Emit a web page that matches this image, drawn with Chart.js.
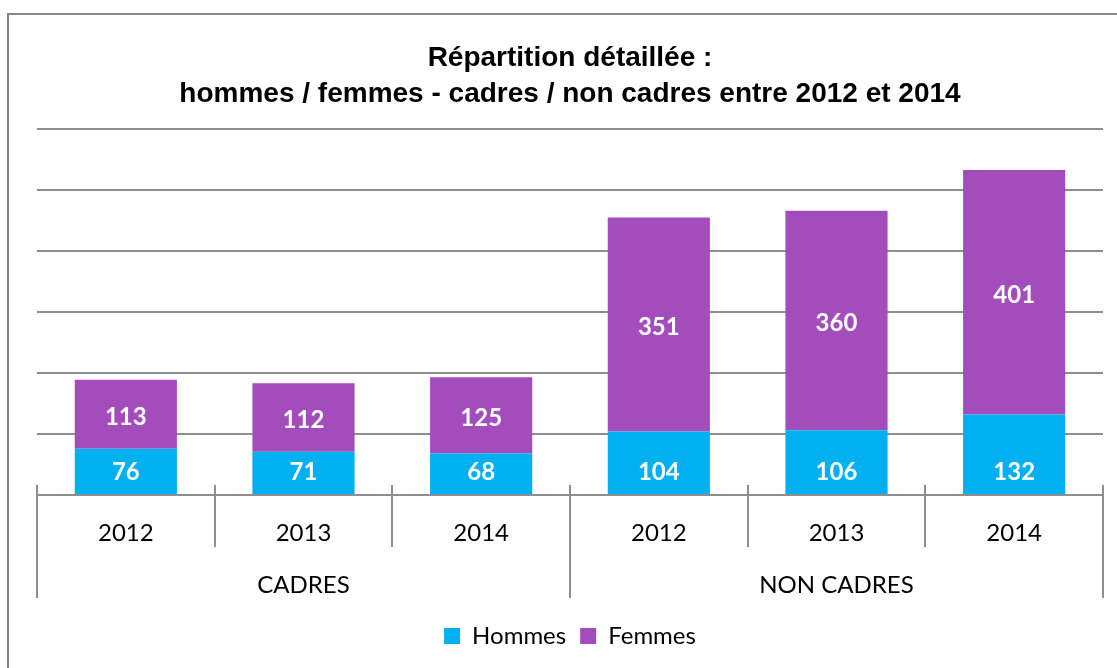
<!DOCTYPE html>
<html>
<head>
<meta charset="utf-8">
<script src="https://cdn.jsdelivr.net/npm/chart.js@4"></script>
<style>
  body { margin: 0; background: #fff; overflow: hidden; }
  #frame { position: absolute; left: 7px; top: 13px; width: 1200px; height: 700px;
           border-left: 2px solid #868686; border-top: 2px solid #868686; }
  #chart { position: absolute; left: 0; top: 0; }
</style>
</head>
<body>
<div id="frame"></div>
<canvas id="chart" width="1117" height="668"></canvas>
<script>
// Data
const years = ['2012', '2013', '2014', '2012', '2013', '2014'];
const groups = ['CADRES', 'NON CADRES'];
const hommes = [76, 71, 68, 104, 106, 132];
const femmes = [113, 112, 125, 351, 360, 401];

const labelFont = 'Lato, "Open Sans", sans-serif';

// Separators under the axis + group labels
const groupPlugin = {
    id: 'groupAxis',
    afterDraw(chart) {
        const x = chart.scales.x;
        const ctx = chart.ctx;
        const step = x.width / years.length;
        const per = years.length / groups.length;
        ctx.save();
        ctx.strokeStyle = '#8e8e8e';
        ctx.lineWidth = 2;
        for (let i = 0; i <= years.length; i++) {
            const px = Math.round(x.left + i * step);
            const edge = i % per === 0;
            ctx.beginPath();
            ctx.moveTo(px, x.top - 10);
            ctx.lineTo(px, x.top + (edge ? 103 : 52));
            ctx.stroke();
        }
        ctx.fillStyle = '#000';
        ctx.font = '24px ' + labelFont;
        ctx.textAlign = 'center';
        ctx.textBaseline = 'middle';
        groups.forEach((g, k) => {
            const cx = (x.getPixelForValue(k * per) + x.getPixelForValue(k * per + per - 1)) / 2;
            ctx.fillText(g, cx, x.top + 90);
        });
        ctx.restore();
    }
};

// Value labels inside the bars
const valuePlugin = {
    id: 'values',
    afterDatasetsDraw(chart) {
        const ctx = chart.ctx;
        ctx.save();
        ctx.fillStyle = '#fff';
        ctx.font = 'bold 24px ' + labelFont;
        ctx.textAlign = 'center';
        ctx.textBaseline = 'middle';
        chart.data.datasets.forEach((ds, di) => {
            chart.getDatasetMeta(di).data.forEach((bar, i) => {
                const p = bar.getProps(['x', 'y', 'base'], true);
                const y = di === 0 ? p.base - 22 : (p.y + p.base) / 2 + 3;
                ctx.fillText(ds.data[i], p.x, y);
            });
        });
        ctx.restore();
    }
};

new Chart(document.getElementById('chart'), {
    type: 'bar',
    data: {
        labels: years,
        datasets: [{
            label: 'Hommes',
            data: hommes,
            backgroundColor: '#00b0f0',
            barPercentage: 0.575,
            categoryPercentage: 1
        }, {
            label: 'Femmes',
            data: femmes,
            backgroundColor: '#a34dbd',
            barPercentage: 0.575,
            categoryPercentage: 1
        }]
    },
    options: {
        responsive: false,
        animation: false,
        layout: { padding: { left: 37, right: 14, top: 0, bottom: 10 } },
        plugins: {
            title: {
                display: true,
                text: ['Répartition détaillée :', 'hommes / femmes - cadres / non cadres entre 2012 et 2014'],
                color: '#000',
                font: { family: '"Liberation Sans", Arial, sans-serif', size: 28, weight: 'bold', lineHeight: 1.286 },
                padding: { top: 40, bottom: 17 }
            },
            legend: {
                position: 'bottom',
                labels: {
                    color: '#000',
                    font: { family: labelFont, size: 24 },
                    boxWidth: 16,
                    boxHeight: 16,
                    padding: 14
                }
            },
            tooltip: { enabled: false }
        },
        scales: {
            x: {
                stacked: true,
                grid: { display: false },
                border: { display: true, color: '#8e8e8e', width: 2 },
                ticks: {
                    color: '#000',
                    font: { family: labelFont, size: 24 },
                    padding: 16,
                    maxRotation: 0
                },
                afterFit(scale) { scale.height = 115; }
            },
            y: {
                stacked: true,
                min: 0,
                max: 600,
                ticks: { display: false, stepSize: 100 },
                grid: { color: '#8e8e8e', lineWidth: 2, drawTicks: false },
                border: { display: false }
            }
        }
    },
    plugins: [groupPlugin, valuePlugin]
});
</script>
</body>
</html>
